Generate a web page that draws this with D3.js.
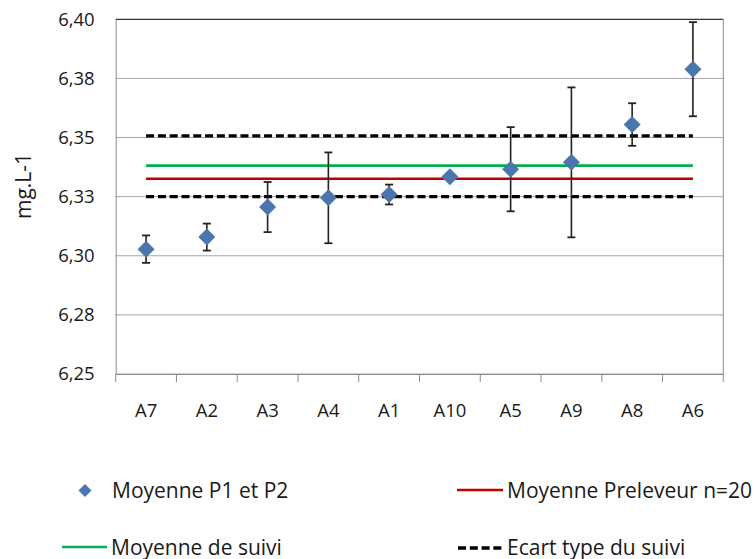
<!DOCTYPE html>
<html>
<head>
<meta charset="utf-8">
<script src="https://cdn.jsdelivr.net/npm/d3@7"></script>
<style>
  html, body { margin: 0; padding: 0; background: #fff; }
  svg { display: block; font-family: "Open Sans", sans-serif; }
</style>
</head>
<body>
<svg id="chart" width="756" height="559"></svg>
<script>
// Sampling points, ordered by increasing mean
const categories = ["A7", "A2", "A3", "A4", "A1", "A10", "A5", "A9", "A8", "A6"];
// Mean of P1 and P2 (mg.L-1)
const means = [6.3028, 6.3079, 6.3206, 6.3245, 6.3259, 6.3334, 6.3366, 6.3395, 6.3555, 6.3789];
// Half-width of each error bar
const errors = [0.0058, 0.0057, 0.0106, 0.0192, 0.0042, 0.0, 0.0178, 0.0317, 0.0090, 0.0199];

// Reference levels
const moyenneSuivi = [6.3381];
const moyennePreleveur = [6.3326];
const ecartTypeSuivi = [6.3507, 6.3250];

const yTickValues = [6.25, 6.275, 6.30, 6.325, 6.35, 6.375, 6.40];
const yTickLabels = ["6,25", "6,28", "6,30", "6,33", "6,35", "6,38", "6,40"];

const legendLabels = ["Moyenne P1 et P2", "Moyenne Preleveur n=20", "Moyenne de suivi", "Ecart type du suivi"];

const colors = {
  marker: "#4a76ad",
  red: "#c00000",
  green: "#00b050",
  dash: "#000000",
  grid: "#a6a6a6",
  axis: "#8c8c8c",
  text: "#1a1a1a"
};

const svg = d3.select("#chart");
const plot = { left: 115.7, right: 723.3, top: 19.3, bottom: 374 };

const x = d3.scaleBand().domain(categories).range([plot.left, plot.right]).paddingInner(0).paddingOuter(0);
const y = d3.scaleLinear().domain([6.25, 6.40]).range([plot.bottom, plot.top]);
const cx = c => x(c) + x.bandwidth() / 2;

// Horizontal gridlines
svg.append("g")
  .selectAll("line")
  .data(yTickValues)
  .join("line")
  .attr("x1", plot.left).attr("x2", plot.right)
  .attr("y1", d => y(d)).attr("y2", d => y(d))
  .attr("stroke", (d, i) => i === yTickValues.length - 1 ? "#000" : colors.grid)
  .attr("stroke-width", 1);

// Right border of the plot area
svg.append("line")
  .attr("x1", plot.right).attr("x2", plot.right)
  .attr("y1", plot.top).attr("y2", plot.bottom)
  .attr("stroke", colors.axis).attr("stroke-width", 1);

// Y axis
const yAxis = d3.axisLeft(y)
  .tickValues(yTickValues)
  .tickSize(0)
  .tickPadding(21)
  .tickFormat((d, i) => yTickLabels[i]);
const gy = svg.append("g").attr("transform", `translate(${plot.left},0)`).call(yAxis);
gy.select(".domain").attr("stroke", colors.axis);
gy.selectAll("text").attr("font-size", "18.5px").attr("fill", colors.text)
  .attr("font-family", "'Open Sans', sans-serif");

// X axis with tick marks on category boundaries
const xAxis = d3.axisBottom(x).tickSize(0).tickPadding(30);
const gx = svg.append("g").attr("transform", `translate(0,${plot.bottom})`).call(xAxis);
gx.select(".domain").attr("stroke", colors.axis);
gx.selectAll("text").attr("font-size", "18.5px").attr("fill", colors.text)
  .attr("font-family", "'Open Sans', sans-serif");
const boundaries = categories.map(c => x(c)).concat([plot.right]);
gx.append("g")
  .selectAll("line")
  .data(boundaries)
  .join("line")
  .attr("x1", d => d).attr("x2", d => d)
  .attr("y1", 0).attr("y2", 8)
  .attr("stroke", colors.axis).attr("stroke-width", 1);

// Y axis title
svg.append("text")
  .attr("transform", "translate(31,186) rotate(-90)")
  .attr("text-anchor", "middle")
  .attr("font-size", "21px")
  .attr("fill", colors.text)
  .text("mg.L-1");

// Reference lines across the categories
const xStart = cx(categories[0]);
const xEnd = cx(categories[categories.length - 1]);

svg.append("g").selectAll("line")
  .data(ecartTypeSuivi)
  .join("line")
  .attr("x1", xStart).attr("x2", xEnd)
  .attr("y1", d => y(d)).attr("y2", d => y(d))
  .attr("stroke", colors.dash)
  .attr("stroke-width", 3.4)
  .attr("stroke-dasharray", "8,3.8");

svg.append("g").selectAll("line")
  .data(moyenneSuivi)
  .join("line")
  .attr("x1", xStart).attr("x2", xEnd)
  .attr("y1", d => y(d)).attr("y2", d => y(d))
  .attr("stroke", colors.green).attr("stroke-width", 2.6);

svg.append("g").selectAll("line")
  .data(moyennePreleveur)
  .join("line")
  .attr("x1", xStart).attr("x2", xEnd)
  .attr("y1", d => y(d)).attr("y2", d => y(d))
  .attr("stroke", colors.red).attr("stroke-width", 2.6);

// Error bars
const points = categories.map((c, i) => ({ c, m: means[i], e: errors[i] }));
const eb = svg.append("g").selectAll("g")
  .data(points.filter(p => p.e > 0))
  .join("g");
eb.append("line")
  .attr("x1", d => cx(d.c)).attr("x2", d => cx(d.c))
  .attr("y1", d => y(d.m + d.e)).attr("y2", d => y(d.m - d.e))
  .attr("stroke", "#222").attr("stroke-width", 1.6);
eb.selectAll("line.cap")
  .data(d => [d.m + d.e, d.m - d.e].map(v => ({ c: d.c, v })))
  .join("line")
  .attr("class", "cap")
  .attr("x1", d => cx(d.c) - 4).attr("x2", d => cx(d.c) + 4)
  .attr("y1", d => y(d.v)).attr("y2", d => y(d.v))
  .attr("stroke", "#222").attr("stroke-width", 1.8);

// Diamond markers
const diamond = r => `M0,${-r}L${r},0L0,${r}L${-r},0Z`;
svg.append("g").selectAll("path")
  .data(points)
  .join("path")
  .attr("transform", d => `translate(${cx(d.c)},${y(d.m)})`)
  .attr("d", diamond(8.5))
  .attr("fill", colors.marker);

// Legend
const legend = svg.append("g").attr("font-size", "21px").attr("fill", colors.text);
const lg1 = legend.append("g");
lg1.append("path").attr("transform", "translate(85,490.5)").attr("d", diamond(6.5)).attr("fill", colors.marker);
lg1.append("text").attr("x", 112).attr("y", 498).text(legendLabels[0]);

const lg2 = legend.append("g");
lg2.append("line").attr("x1", 457).attr("x2", 503).attr("y1", 490).attr("y2", 490)
  .attr("stroke", colors.red).attr("stroke-width", 2.6);
lg2.append("text").attr("x", 507).attr("y", 498).text(legendLabels[1]);

const lg3 = legend.append("g");
lg3.append("line").attr("x1", 62).attr("x2", 107).attr("y1", 547).attr("y2", 547)
  .attr("stroke", colors.green).attr("stroke-width", 2.6);
lg3.append("text").attr("x", 111).attr("y", 555).text(legendLabels[2]);

const lg4 = legend.append("g");
lg4.append("line").attr("x1", 458).attr("x2", 503).attr("y1", 548).attr("y2", 548)
  .attr("stroke", colors.dash).attr("stroke-width", 3.4).attr("stroke-dasharray", "8,3.8");
lg4.append("text").attr("x", 507).attr("y", 555).text(legendLabels[3]);
</script>
</body>
</html>
